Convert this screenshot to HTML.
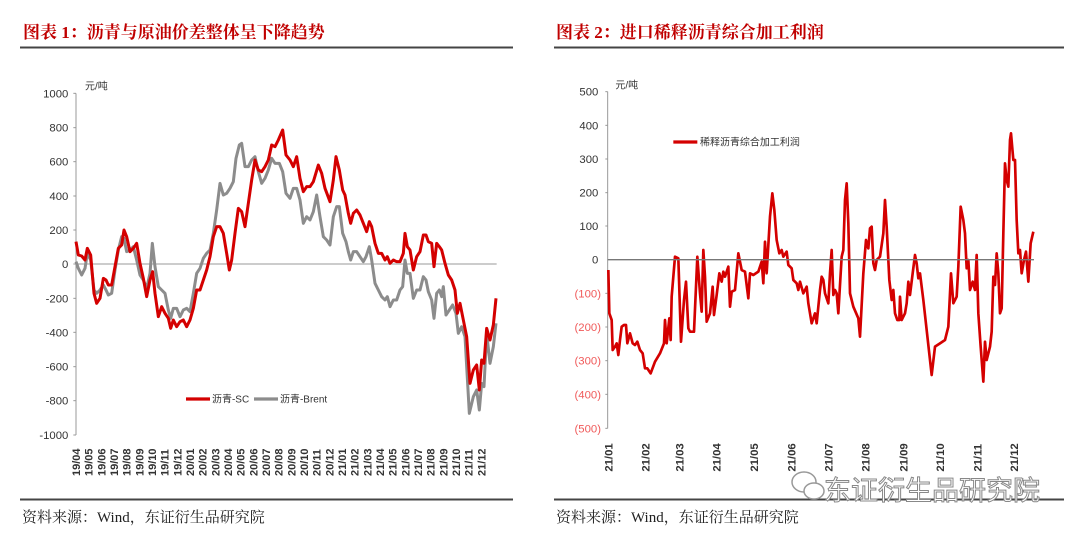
<!DOCTYPE html>
<html><head><meta charset="utf-8"><style>
html,body{margin:0;padding:0;background:#fff;width:1080px;height:539px;overflow:hidden}
text{font-family:"Liberation Sans","Noto Sans CJK SC",sans-serif}
.t{font-family:"Liberation Serif","Noto Serif CJK SC",serif;font-weight:bold;fill:#c00000;font-size:17px}
.f{font-family:"Liberation Serif","Noto Serif CJK SC",serif;fill:#222;font-size:15px}
</style></head><body>
<svg width="1080" height="539" viewBox="0 0 1080 539" xmlns="http://www.w3.org/2000/svg">
<text class="t" x="23" y="38">图表 1：沥青与原油价差整体呈下降趋势</text>
<text class="t" x="556" y="38">图表 2：进口稀释沥青综合加工利润</text>
<line x1="20" y1="47.5" x2="513" y2="47.5" stroke="#444" stroke-width="2"/>
<line x1="554" y1="47.5" x2="1064" y2="47.5" stroke="#444" stroke-width="2"/>
<line x1="20" y1="499.5" x2="513" y2="499.5" stroke="#444" stroke-width="2"/>
<line x1="554" y1="499.5" x2="1064" y2="499.5" stroke="#444" stroke-width="2"/>
<text class="f" x="22" y="522">资料来源：Wind，东证衍生品研究院</text>
<text class="f" x="556" y="522">资料来源：Wind，东证衍生品研究院</text>

<!-- LEFT CHART (zoom coords) -->
<g transform="translate(0,60) scale(0.3333333)">
<line x1="228" y1="100" x2="228" y2="1125" stroke="#999" stroke-width="3"/>
<line x1="228" y1="612" x2="1490" y2="612" stroke="#999" stroke-width="3"/>
<g stroke="#999" stroke-width="3">
<line x1="220" y1="100" x2="228" y2="100"/><line x1="220" y1="203" x2="228" y2="203"/><line x1="220" y1="305" x2="228" y2="305"/><line x1="220" y1="408" x2="228" y2="408"/><line x1="220" y1="510" x2="228" y2="510"/><line x1="220" y1="612" x2="228" y2="612"/><line x1="220" y1="715" x2="228" y2="715"/><line x1="220" y1="817" x2="228" y2="817"/><line x1="220" y1="920" x2="228" y2="920"/><line x1="220" y1="1022" x2="228" y2="1022"/><line x1="220" y1="1125" x2="228" y2="1125"/>
</g>
<g text-anchor="end" fill="#333">
<text x="205" y="112" font-size="34">1000</text><text x="205" y="215" font-size="34">800</text><text x="205" y="317" font-size="34">600</text><text x="205" y="420" font-size="34">400</text><text x="205" y="522" font-size="34">200</text><text x="205" y="624" font-size="34">0</text><text x="205" y="727" font-size="34">-200</text><text x="205" y="829" font-size="34">-400</text><text x="205" y="932" font-size="34">-600</text><text x="205" y="1034" font-size="34">-800</text><text x="205" y="1137" font-size="34">-1000</text>
</g>
<text x="255" y="88" font-size="30" fill="#333">元/吨</text>
<g font-size="33" fill="#333" font-weight="bold">
<text transform="translate(240,1248) rotate(-90)">19/04</text><text transform="translate(278,1248) rotate(-90)">19/05</text><text transform="translate(316,1248) rotate(-90)">19/06</text><text transform="translate(354,1248) rotate(-90)">19/07</text><text transform="translate(392,1248) rotate(-90)">19/08</text><text transform="translate(430,1248) rotate(-90)">19/09</text><text transform="translate(468,1248) rotate(-90)">19/10</text><text transform="translate(506,1248) rotate(-90)">19/11</text><text transform="translate(544,1248) rotate(-90)">19/12</text><text transform="translate(582,1248) rotate(-90)">20/01</text><text transform="translate(620,1248) rotate(-90)">20/02</text><text transform="translate(658,1248) rotate(-90)">20/03</text><text transform="translate(696,1248) rotate(-90)">20/04</text><text transform="translate(734,1248) rotate(-90)">20/05</text><text transform="translate(772,1248) rotate(-90)">20/06</text><text transform="translate(810,1248) rotate(-90)">20/07</text><text transform="translate(848,1248) rotate(-90)">20/08</text><text transform="translate(886,1248) rotate(-90)">20/09</text><text transform="translate(924,1248) rotate(-90)">20/10</text><text transform="translate(962,1248) rotate(-90)">20/11</text><text transform="translate(1000,1248) rotate(-90)">20/12</text><text transform="translate(1038,1248) rotate(-90)">21/01</text><text transform="translate(1076,1248) rotate(-90)">21/02</text><text transform="translate(1114,1248) rotate(-90)">21/03</text><text transform="translate(1152,1248) rotate(-90)">21/04</text><text transform="translate(1190,1248) rotate(-90)">21/05</text><text transform="translate(1228,1248) rotate(-90)">21/06</text><text transform="translate(1266,1248) rotate(-90)">21/07</text><text transform="translate(1304,1248) rotate(-90)">21/08</text><text transform="translate(1342,1248) rotate(-90)">21/09</text><text transform="translate(1380,1248) rotate(-90)">21/10</text><text transform="translate(1418,1248) rotate(-90)">21/11</text><text transform="translate(1456,1248) rotate(-90)">21/12</text>
</g>
<polyline fill="none" stroke="#8c8c8c" stroke-width="9" stroke-linejoin="round" points="228,605 235,625 245,645 255,625 262,580 272,600 282,690 290,700 300,690 310,675 318,690 325,705 335,700 345,630 355,570 365,530 372,535 380,575 390,570 400,560 410,600 420,645 430,660 440,685 450,640 457,550 465,620 475,680 485,690 495,700 505,750 512,775 520,745 530,745 540,770 550,750 560,745 570,755 580,700 590,640 600,625 610,595 620,580 630,570 640,520 650,450 660,370 670,405 680,400 690,385 700,365 708,295 718,255 725,250 735,320 745,320 755,300 765,290 775,335 785,370 795,355 805,330 815,295 825,310 838,310 848,335 858,400 870,415 880,385 890,385 900,420 910,490 920,470 930,480 940,455 950,405 960,470 970,530 980,540 990,555 1000,470 1010,440 1018,440 1028,520 1038,545 1045,575 1052,600 1060,575 1070,575 1080,590 1090,605 1098,590 1108,560 1115,600 1125,670 1135,690 1145,710 1155,720 1162,710 1170,740 1180,720 1190,720 1200,690 1208,680 1215,600 1222,640 1230,640 1240,715 1250,690 1260,690 1270,650 1278,660 1285,695 1295,720 1302,775 1310,700 1318,690 1325,710 1330,680 1338,765 1348,750 1358,735 1368,760 1375,820 1385,800 1395,830 1408,1060 1420,1010 1430,990 1438,1050 1445,970 1452,980 1460,820 1470,910 1480,860 1488,790"/>
<polyline fill="none" stroke="#d40000" stroke-width="9" stroke-linejoin="round" points="228,545 235,585 245,588 255,600 262,565 272,585 282,700 290,730 300,715 310,655 318,660 325,675 335,675 345,620 355,565 365,555 372,510 380,530 390,575 400,565 410,550 420,610 430,655 440,710 450,660 458,635 465,700 475,770 485,740 495,760 505,775 512,805 520,780 530,800 540,785 550,780 560,800 570,780 580,745 590,690 600,690 610,660 620,630 630,590 640,530 650,500 660,500 670,520 680,580 688,630 695,600 705,520 715,445 725,455 735,500 745,430 755,360 765,300 775,330 785,335 795,320 805,300 815,255 825,260 835,240 848,210 858,285 870,300 880,320 890,290 900,355 910,395 920,380 930,380 940,365 955,315 965,340 975,385 990,425 1000,360 1008,290 1018,330 1028,390 1035,405 1045,460 1052,490 1060,460 1070,450 1080,465 1090,490 1100,515 1108,485 1115,500 1125,550 1135,580 1145,580 1155,600 1162,590 1170,610 1180,600 1190,605 1200,605 1210,580 1215,520 1222,560 1230,570 1240,630 1250,590 1260,575 1270,525 1278,525 1285,545 1295,550 1302,620 1310,550 1318,560 1325,570 1335,610 1345,645 1355,660 1365,690 1372,760 1380,730 1390,780 1400,830 1410,970 1420,930 1430,915 1438,990 1445,900 1452,910 1460,805 1470,840 1480,795 1488,715"/>
<line x1="558" y1="1017" x2="630" y2="1017" stroke="#d40000" stroke-width="10"/>
<text x="636" y="1028" font-size="30" fill="#333">沥青-SC</text>
<line x1="762" y1="1017" x2="834" y2="1017" stroke="#8c8c8c" stroke-width="10"/>
<text x="840" y="1028" font-size="30" fill="#333">沥青-Brent</text>
</g>

<!-- RIGHT CHART -->
<g transform="translate(540,60) scale(0.3333333)">
<line x1="203" y1="95" x2="203" y2="1105" stroke="#999" stroke-width="3"/>
<g stroke="#999" stroke-width="3">
<line x1="196" y1="95" x2="203" y2="95"/><line x1="196" y1="196" x2="203" y2="196"/><line x1="196" y1="297" x2="203" y2="297"/><line x1="196" y1="398" x2="203" y2="398"/><line x1="196" y1="498" x2="203" y2="498"/><line x1="196" y1="700" x2="203" y2="700"/><line x1="196" y1="801" x2="203" y2="801"/><line x1="196" y1="902" x2="203" y2="902"/><line x1="196" y1="1003" x2="203" y2="1003"/><line x1="196" y1="1105" x2="203" y2="1105"/>
</g>
<g text-anchor="end" font-size="34">
<text x="175" y="107" fill="#333">500</text><text x="175" y="208" fill="#333">400</text><text x="175" y="309" fill="#333">300</text><text x="175" y="410" fill="#333">200</text><text x="175" y="510" fill="#333">100</text><text x="175" y="611" fill="#333">0</text>
<text x="183" y="712" fill="#f05a5a">(100)</text><text x="183" y="813" fill="#f05a5a">(200)</text><text x="183" y="914" fill="#f05a5a">(300)</text><text x="183" y="1015" fill="#f05a5a">(400)</text><text x="183" y="1117" fill="#f05a5a">(500)</text>
</g>
<text x="226" y="85" font-size="30" fill="#333">元/吨</text>
<g font-size="34" fill="#333" font-weight="bold">
<text transform="translate(217,1235) rotate(-90)">21/01</text><text transform="translate(329,1235) rotate(-90)">21/02</text><text transform="translate(430,1235) rotate(-90)">21/03</text><text transform="translate(542,1235) rotate(-90)">21/04</text><text transform="translate(654,1235) rotate(-90)">21/05</text><text transform="translate(767,1235) rotate(-90)">21/06</text><text transform="translate(877,1235) rotate(-90)">21/07</text><text transform="translate(989,1235) rotate(-90)">21/08</text><text transform="translate(1102,1235) rotate(-90)">21/09</text><text transform="translate(1212,1235) rotate(-90)">21/10</text><text transform="translate(1325,1235) rotate(-90)">21/11</text><text transform="translate(1434,1235) rotate(-90)">21/12</text>
</g>
<polyline fill="none" stroke="#d40000" stroke-width="8" stroke-linejoin="round" points="205,630 208,760 215,780 218,870 225,860 230,850 235,885 240,840 245,800 252,795 258,795 262,850 270,820 278,850 285,855 292,845 300,870 308,880 315,925 322,925 332,940 345,905 360,880 372,850 375,780 380,850 388,775 392,840 395,710 405,590 415,595 423,845 432,720 438,665 445,805 450,815 462,815 472,590 480,700 485,755 490,570 495,650 500,785 510,760 518,680 522,765 530,705 538,640 545,665 550,635 555,650 565,620 570,740 575,695 585,690 595,580 605,630 615,635 625,715 630,640 640,645 655,635 665,605 670,670 675,545 680,640 690,470 697,400 703,450 710,540 718,580 725,570 730,590 740,575 745,615 755,625 760,660 770,670 775,690 780,665 790,700 800,680 805,730 815,790 825,760 830,790 835,740 840,690 845,650 850,660 855,700 865,730 870,640 875,570 880,705 885,690 890,700 895,760 905,590 910,570 915,420 920,370 925,490 930,700 940,740 955,775 960,830 970,640 978,540 985,565 990,505 995,500 1000,610 1005,630 1010,600 1020,590 1030,520 1035,420 1040,500 1048,660 1055,720 1060,690 1065,760 1072,780 1078,780 1080,710 1085,780 1095,760 1100,730 1105,665 1110,705 1118,640 1125,585 1130,610 1135,655 1140,640 1150,720 1175,945 1185,860 1200,850 1215,840 1225,800 1233,640 1240,730 1250,710 1255,620 1262,440 1270,480 1275,520 1280,625 1285,600 1290,690 1298,665 1305,690 1310,585 1315,760 1322,860 1330,965 1335,845 1340,900 1350,860 1355,815 1360,650 1365,675 1370,580 1375,640 1380,760 1385,745 1390,520 1395,310 1400,360 1405,380 1410,240 1413,220 1420,300 1425,300 1430,480 1435,580 1440,570 1445,640 1452,600 1458,575 1465,665 1472,550 1480,515"/>
<line x1="203" y1="599" x2="1482" y2="599" stroke="#777" stroke-width="4"/>
<line x1="400" y1="246" x2="472" y2="246" stroke="#d40000" stroke-width="10"/>
<text x="480" y="256" font-size="30" fill="#333">稀释沥青综合加工利润</text>
</g>
<text x="824" y="500" font-size="27" fill="#fff" stroke="#888" stroke-width="1">东证衍生品研究院</text>
<ellipse cx="804" cy="482" rx="12" ry="10" fill="#fff" stroke="#999" stroke-width="1.5"/>
<ellipse cx="814" cy="491" rx="10" ry="8" fill="#fff" stroke="#999" stroke-width="1.5"/>
</svg>
</body></html>
